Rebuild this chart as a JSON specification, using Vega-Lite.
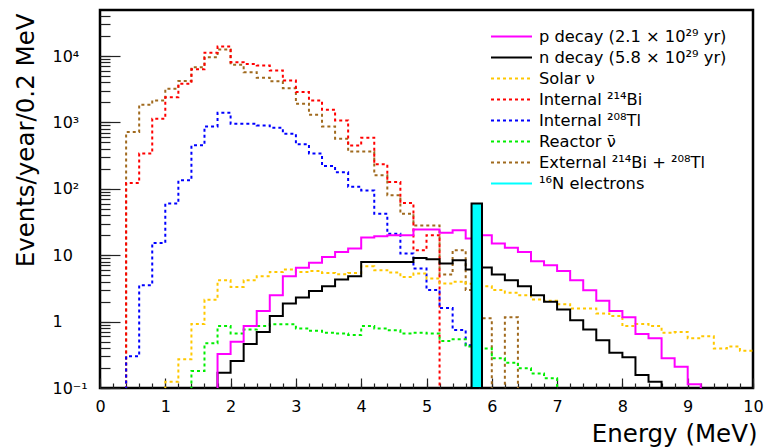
{
  "$schema": "https://vega.github.io/schema/vega-lite/v6.json",
  "width": 653,
  "height": 378,
  "autosize": {"type": "none"},
  "padding": {"left": 100, "top": 10, "right": 19, "bottom": 60},
  "background": "white",
  "config": {
    "view": {"stroke": "black", "strokeWidth": 2.5},
    "font": "DejaVu Sans",
    "axis": {"domain": false, "grid": false, "ticks": true, "tickColor": "#222", "tickOpacity": 1, "tickWidth": 1.2, "zindex": 1, "labelColor": "black", "titleColor": "black", "labelFont": "DejaVu Sans", "titleFont": "DejaVu Sans", "titleFontWeight": "normal", "labelFlush": false, "labelOverlap": false, "labelBound": false}
  },
  "resolve": {"axis": {"x": "independent", "y": "independent"}},
  "datasets": {
    "h": [
      {"s":"ext","e":0.2,"n":0.01},{"s":"ext","e":0.4,"n":715},{"s":"ext","e":0.6,"n":1846},{"s":"ext","e":0.8,"n":2140},{"s":"ext","e":1.0,"n":3210},{"s":"ext","e":1.2,"n":4190},{"s":"ext","e":1.4,"n":6800},{"s":"ext","e":1.6,"n":9600},{"s":"ext","e":1.8,"n":12500},{"s":"ext","e":2.0,"n":7400},{"s":"ext","e":2.2,"n":5700},{"s":"ext","e":2.4,"n":4700},{"s":"ext","e":2.6,"n":4150},{"s":"ext","e":2.8,"n":3280},{"s":"ext","e":3.0,"n":1910},{"s":"ext","e":3.2,"n":1306},{"s":"ext","e":3.4,"n":870},{"s":"ext","e":3.6,"n":569},{"s":"ext","e":3.8,"n":364},{"s":"ext","e":4.0,"n":364},{"s":"ext","e":4.2,"n":160},{"s":"ext","e":4.4,"n":80},{"s":"ext","e":4.6,"n":42},{"s":"ext","e":4.8,"n":28},{"s":"ext","e":5.0,"n":28},{"s":"ext","e":5.2,"n":5.1},{"s":"ext","e":5.4,"n":11.9},{"s":"ext","e":5.6,"n":3},{"s":"ext","e":5.8,"n":1.12},{"s":"ext","e":6.0,"n":0.01},{"s":"ext","e":6.2,"n":1.16},{"s":"ext","e":6.4,"n":0.01},
      {"s":"bi","e":0.2,"n":0.01},{"s":"bi","e":0.4,"n":122},{"s":"bi","e":0.6,"n":339},{"s":"bi","e":0.8,"n":1140},{"s":"bi","e":1.0,"n":2400},{"s":"bi","e":1.2,"n":3830},{"s":"bi","e":1.4,"n":6300},{"s":"bi","e":1.6,"n":11200},{"s":"bi","e":1.8,"n":13900},{"s":"bi","e":2.0,"n":8060},{"s":"bi","e":2.2,"n":7600},{"s":"bi","e":2.4,"n":7200},{"s":"bi","e":2.6,"n":6050},{"s":"bi","e":2.8,"n":4270},{"s":"bi","e":3.0,"n":2860},{"s":"bi","e":3.2,"n":2140},{"s":"bi","e":3.4,"n":1550},{"s":"bi","e":3.6,"n":1070},{"s":"bi","e":3.8,"n":449},{"s":"bi","e":4.0,"n":589},{"s":"bi","e":4.2,"n":234},{"s":"bi","e":4.4,"n":127},{"s":"bi","e":4.6,"n":61},{"s":"bi","e":4.8,"n":11.9},{"s":"bi","e":5.0,"n":20},{"s":"bi","e":5.2,"n":0.01},
      {"s":"tl","e":0.2,"n":0.01},{"s":"tl","e":0.4,"n":0.3},{"s":"tl","e":0.6,"n":3.54},{"s":"tl","e":0.8,"n":15.3},{"s":"tl","e":1.0,"n":60},{"s":"tl","e":1.2,"n":134},{"s":"tl","e":1.4,"n":451},{"s":"tl","e":1.6,"n":871},{"s":"tl","e":1.8,"n":1400},{"s":"tl","e":2.0,"n":955},{"s":"tl","e":2.2,"n":955},{"s":"tl","e":2.4,"n":900},{"s":"tl","e":2.6,"n":832},{"s":"tl","e":2.8,"n":676},{"s":"tl","e":3.0,"n":467},{"s":"tl","e":3.2,"n":339},{"s":"tl","e":3.4,"n":220},{"s":"tl","e":3.6,"n":178},{"s":"tl","e":3.8,"n":107},{"s":"tl","e":4.0,"n":94},{"s":"tl","e":4.2,"n":42},{"s":"tl","e":4.4,"n":21},{"s":"tl","e":4.6,"n":10.6},{"s":"tl","e":4.8,"n":6.3},{"s":"tl","e":5.0,"n":3.0},{"s":"tl","e":5.2,"n":1.6},{"s":"tl","e":5.4,"n":0.75},{"s":"tl","e":5.6,"n":0.44},{"s":"tl","e":5.8,"n":0.01},
      {"s":"sol","e":0.8,"n":0.01},{"s":"sol","e":1.0,"n":0.124},{"s":"sol","e":1.2,"n":0.27},{"s":"sol","e":1.4,"n":0.92},{"s":"sol","e":1.6,"n":2.14},{"s":"sol","e":1.8,"n":4.2},{"s":"sol","e":2.0,"n":3.33},{"s":"sol","e":2.2,"n":4.2},{"s":"sol","e":2.4,"n":4.83},{"s":"sol","e":2.6,"n":5.6},{"s":"sol","e":2.8,"n":6.1},{"s":"sol","e":3.0,"n":5.6},{"s":"sol","e":3.2,"n":5.8},{"s":"sol","e":3.4,"n":5.4},{"s":"sol","e":3.6,"n":5.18},{"s":"sol","e":3.8,"n":5.4},{"s":"sol","e":4.0,"n":6.8},{"s":"sol","e":4.2,"n":5.95},{"s":"sol","e":4.4,"n":5.5},{"s":"sol","e":4.6,"n":4.7},{"s":"sol","e":4.8,"n":5.3},{"s":"sol","e":5.0,"n":4.47},{"s":"sol","e":5.2,"n":3.76},{"s":"sol","e":5.4,"n":3.98},{"s":"sol","e":5.6,"n":3.7},{"s":"sol","e":5.8,"n":3.42},{"s":"sol","e":6.0,"n":2.98},{"s":"sol","e":6.2,"n":2.71},{"s":"sol","e":6.4,"n":2.5},{"s":"sol","e":6.6,"n":2.16},{"s":"sol","e":6.8,"n":2.06},{"s":"sol","e":7.0,"n":1.83},{"s":"sol","e":7.2,"n":1.58},{"s":"sol","e":7.4,"n":1.58},{"s":"sol","e":7.6,"n":1.33},{"s":"sol","e":7.8,"n":1.21},{"s":"sol","e":8.0,"n":0.855},{"s":"sol","e":8.2,"n":0.92},{"s":"sol","e":8.4,"n":0.855},{"s":"sol","e":8.6,"n":0.68},{"s":"sol","e":8.8,"n":0.7},{"s":"sol","e":9.0,"n":0.56},{"s":"sol","e":9.2,"n":0.6},{"s":"sol","e":9.4,"n":0.395},{"s":"sol","e":9.6,"n":0.42},{"s":"sol","e":9.8,"n":0.365},{"s":"sol","e":10.0,"n":0.365},
      {"s":"re","e":1.2,"n":0.01},{"s":"re","e":1.4,"n":0.18},{"s":"re","e":1.6,"n":0.47},{"s":"re","e":1.8,"n":0.855},{"s":"re","e":2.0,"n":0.66},{"s":"re","e":2.2,"n":0.76},{"s":"re","e":2.4,"n":0.855},{"s":"re","e":2.6,"n":0.91},{"s":"re","e":2.8,"n":0.91},{"s":"re","e":3.0,"n":0.79},{"s":"re","e":3.2,"n":0.73},{"s":"re","e":3.4,"n":0.68},{"s":"re","e":3.6,"n":0.66},{"s":"re","e":3.8,"n":0.63},{"s":"re","e":4.0,"n":0.855},{"s":"re","e":4.2,"n":0.79},{"s":"re","e":4.4,"n":0.74},{"s":"re","e":4.6,"n":0.66},{"s":"re","e":4.8,"n":0.68},{"s":"re","e":5.0,"n":0.66},{"s":"re","e":5.2,"n":0.51},{"s":"re","e":5.4,"n":0.54},{"s":"re","e":5.6,"n":0.42},{"s":"re","e":5.8,"n":0.395},{"s":"re","e":6.0,"n":0.28},{"s":"re","e":6.2,"n":0.24},{"s":"re","e":6.4,"n":0.198},{"s":"re","e":6.6,"n":0.166},{"s":"re","e":6.8,"n":0.14},{"s":"re","e":7.0,"n":0.01},
      {"s":"n","e":1.6,"n":0.01},{"s":"n","e":1.8,"n":0.17},{"s":"n","e":2.0,"n":0.255},{"s":"n","e":2.2,"n":0.46},{"s":"n","e":2.4,"n":0.7},{"s":"n","e":2.6,"n":1.21},{"s":"n","e":2.8,"n":1.88},{"s":"n","e":3.0,"n":2.31},{"s":"n","e":3.2,"n":2.88},{"s":"n","e":3.4,"n":3.42},{"s":"n","e":3.6,"n":4.3},{"s":"n","e":3.8,"n":4.83},{"s":"n","e":4.0,"n":7.9},{"s":"n","e":4.2,"n":7.9},{"s":"n","e":4.4,"n":7.9},{"s":"n","e":4.6,"n":7.9},{"s":"n","e":4.8,"n":9.1},{"s":"n","e":5.0,"n":8.7},{"s":"n","e":5.2,"n":7.5},{"s":"n","e":5.4,"n":8.4},{"s":"n","e":5.6,"n":6.1},{"s":"n","e":5.8,"n":6.5},{"s":"n","e":6.0,"n":5.13},{"s":"n","e":6.2,"n":4.2},{"s":"n","e":6.4,"n":3.42},{"s":"n","e":6.6,"n":2.5},{"s":"n","e":6.8,"n":1.99},{"s":"n","e":7.0,"n":1.52},{"s":"n","e":7.2,"n":1.05},{"s":"n","e":7.4,"n":0.76},{"s":"n","e":7.6,"n":0.525},{"s":"n","e":7.8,"n":0.34},{"s":"n","e":8.0,"n":0.29},{"s":"n","e":8.2,"n":0.157},{"s":"n","e":8.4,"n":0.124},{"s":"n","e":8.6,"n":0.01},
      {"s":"p","e":1.6,"n":0.01},{"s":"p","e":1.8,"n":0.325},{"s":"p","e":2.0,"n":0.497},{"s":"p","e":2.2,"n":0.855},{"s":"p","e":2.4,"n":1.45},{"s":"p","e":2.6,"n":2.5},{"s":"p","e":2.8,"n":4.83},{"s":"p","e":3.0,"n":6.46},{"s":"p","e":3.2,"n":7.67},{"s":"p","e":3.4,"n":9.4},{"s":"p","e":3.6,"n":11.2},{"s":"p","e":3.8,"n":12.6},{"s":"p","e":4.0,"n":18.5},{"s":"p","e":4.2,"n":19.3},{"s":"p","e":4.4,"n":20},{"s":"p","e":4.6,"n":20},{"s":"p","e":4.8,"n":24.3},{"s":"p","e":5.0,"n":24.3},{"s":"p","e":5.2,"n":21.7},{"s":"p","e":5.4,"n":23.8},{"s":"p","e":5.6,"n":17.8},{"s":"p","e":5.8,"n":20},{"s":"p","e":6.0,"n":15},{"s":"p","e":6.2,"n":12.9},{"s":"p","e":6.4,"n":11.2},{"s":"p","e":6.6,"n":8.1},{"s":"p","e":6.8,"n":7.07},{"s":"p","e":7.0,"n":5.8},{"s":"p","e":7.2,"n":4.2},{"s":"p","e":7.4,"n":2.96},{"s":"p","e":7.6,"n":2.06},{"s":"p","e":7.8,"n":1.44},{"s":"p","e":8.0,"n":1.16},{"s":"p","e":8.2,"n":0.65},{"s":"p","e":8.4,"n":0.56},{"s":"p","e":8.6,"n":0.28},{"s":"p","e":8.8,"n":0.209},{"s":"p","e":9.0,"n":0.114},{"s":"p","e":9.2,"n":0.01}
    ],
    "n16": [{"x1": 5.69, "x2": 5.85, "lo": 0.1, "hi": 60}]
  },
  "layer": [
    {
      "data": {"name": "h"},
      "mark": {"type": "line", "interpolate": "step-after", "strokeWidth": 2, "clip": true, "strokeJoin": "miter", "strokeCap": "butt"},
      "encoding": {
        "x": {"field": "e", "type": "quantitative",
          "scale": {"domain": [0, 10], "nice": false, "zero": false},
          "axis": {
            "orient": "bottom",
            "offset": -5,
            "tickSize": 5,
            "values": [0,0.2,0.4,0.6,0.8,1,1.2,1.4,1.6,1.8,2,2.2,2.4,2.6,2.8,3,3.2,3.4,3.6,3.8,4,4.2,4.4,4.6,4.8,5,5.2,5.4,5.6,5.8,6,6.2,6.4,6.6,6.8,7,7.2,7.4,7.6,7.8,8,8.2,8.4,8.6,8.8,9,9.2,9.4,9.6,9.8,10],
            "labelExpr": "abs(datum.value - round(datum.value)) < 0.001 ? format(datum.value, 'd') : ''",
            "labelOverlap": false,
            "labelPadding": 10,
            "labelFontSize": 16,
            "labelBaseline": "top",
            "title": "Energy (MeV)",
            "titleFontSize": 24.5,
            "titleAnchor": "end",
            "titleAlign": "right",
            "titleBaseline": "alphabetic",
            "titleX": 657,
            "titleY": 58
          }
        },
        "y": {"field": "n", "type": "quantitative",
          "scale": {"type": "log", "domain": [0.1, 49300], "nice": false},
          "axis": {
            "orient": "left",
            "offset": -10,
            "tickSize": 10,
            "values": [0.1,0.2,0.3,0.4,0.5,0.6,0.7,0.8,0.9,1,2,3,4,5,6,7,8,9,10,20,30,40,50,60,70,80,90,100,200,300,400,500,600,700,800,900,1000,2000,3000,4000,5000,6000,7000,8000,9000,10000,20000,30000,40000],
            "labelExpr": "datum.value == 0.1 ? '10⁻¹' : datum.value == 1 ? '1' : datum.value == 10 ? '10' : datum.value == 100 ? '10²' : datum.value == 1000 ? '10³' : datum.value == 10000 ? '10⁴' : ''",
            "labelOverlap": false,
            "labelPadding": 48,
            "labelAlign": "left",
            "labelBaseline": "middle",
            "labelFontSize": 16,
            "title": "Events/year/0.2 MeV",
            "titleFontSize": 24.5,
            "titleAngle": -90,
            "titleAlign": "right",
            "titleBaseline": "alphabetic",
            "titleX": -77,
            "titleY": 3
          }
        },
        "color": {"field": "s", "type": "nominal",
          "scale": {"domain": ["p","n","sol","bi","tl","re","ext","n16"], "range": ["#ff00ff","#000000","#ffc800","#ff0000","#0000ff","#00ee00","#a06a1e","#00ffff"]},
          "legend": {"orient": "none", "legendX": 390, "legendY": 16, "title": null, "symbolType": "stroke", "symbolSize": 1681, "symbolStrokeWidth": 2, "labelFontSize": 16.3, "labelFont": "DejaVu Sans", "labelColor": "black", "labelLimit": 400, "clipHeight": 21, "rowPadding": 0, "labelOffset": 6, "padding": 0,
            "labelExpr": "datum.label == 'p' ? 'p decay (2.1 × 10²⁹ yr)' : datum.label == 'n' ? 'n decay (5.8 × 10²⁹ yr)' : datum.label == 'sol' ? 'Solar ν' : datum.label == 'bi' ? 'Internal ²¹⁴Bi' : datum.label == 'tl' ? 'Internal ²⁰⁸Tl' : datum.label == 're' ? 'Reactor ν̄' : datum.label == 'ext' ? 'External ²¹⁴Bi + ²⁰⁸Tl' : '¹⁶N electrons'"}
        },
        "strokeDash": {"field": "s", "type": "nominal",
          "scale": {"domain": ["p","n","sol","bi","tl","re","ext","n16"], "range": [[1,0],[1,0],[3,3],[3,3],[3,3],[3,3],[3,3],[1,0]]},
          "legend": {"orient": "none", "legendX": 390, "legendY": 16, "title": null, "symbolType": "stroke", "symbolSize": 1681, "symbolStrokeWidth": 2, "labelFontSize": 16.3, "labelFont": "DejaVu Sans", "labelColor": "black", "labelLimit": 400, "clipHeight": 21, "rowPadding": 0, "labelOffset": 6, "padding": 0,
            "labelExpr": "datum.label == 'p' ? 'p decay (2.1 × 10²⁹ yr)' : datum.label == 'n' ? 'n decay (5.8 × 10²⁹ yr)' : datum.label == 'sol' ? 'Solar ν' : datum.label == 'bi' ? 'Internal ²¹⁴Bi' : datum.label == 'tl' ? 'Internal ²⁰⁸Tl' : datum.label == 're' ? 'Reactor ν̄' : datum.label == 'ext' ? 'External ²¹⁴Bi + ²⁰⁸Tl' : '¹⁶N electrons'"}
        }
      }
    },
    {
      "data": {"name": "n16"},
      "mark": {"type": "rect", "fill": "#00ffff", "stroke": "black", "strokeWidth": 2, "clip": true},
      "encoding": {
        "x": {"field": "x1", "type": "quantitative",
          "scale": {"domain": [0, 10], "nice": false, "zero": false},
          "axis": {"orient": "bottom", "offset": -10, "tickSize": 10, "values": [0,1,2,3,4,5,6,7,8,9,10], "labels": false, "title": null}},
        "x2": {"field": "x2"},
        "y": {"field": "hi", "type": "quantitative",
          "scale": {"type": "log", "domain": [0.1, 49300], "nice": false},
          "axis": {"orient": "left", "offset": -20, "tickSize": 20, "values": [0.1,1,10,100,1000,10000], "labels": false, "title": null}},
        "y2": {"field": "lo"}
      }
    }
  ]
}
